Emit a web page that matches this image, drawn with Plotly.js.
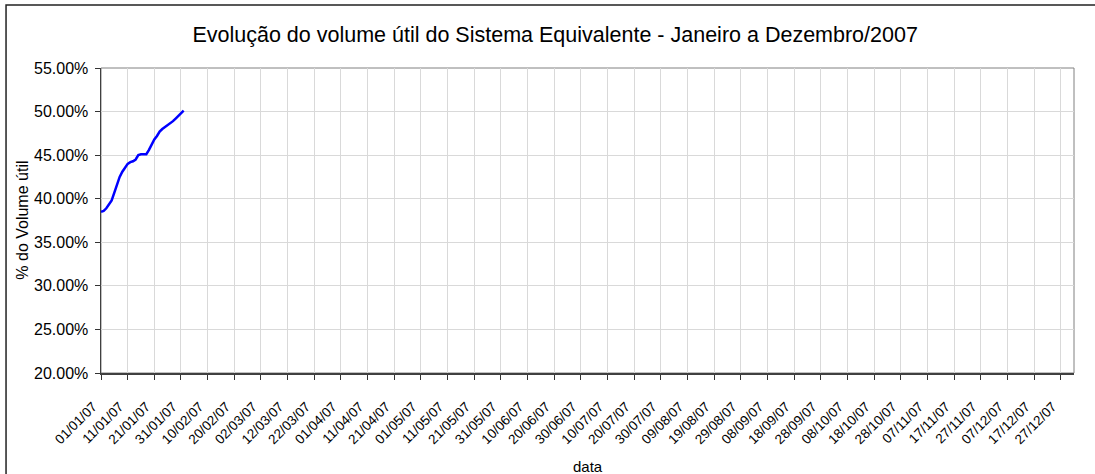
<!DOCTYPE html>
<html>
<head>
<meta charset="utf-8">
<script src="https://cdn.plot.ly/plotly-3.0.1.min.js"></script>
<style>html,body{margin:0;padding:0;background:#fff;}#chart{width:1095px;height:474px;}</style>
</head>
<body>
<div id="chart"></div>
<script>
// Daily dates (01/01/2007 - 01/02/2007)
const dates = [
  "2007-01-01","2007-01-02","2007-01-03","2007-01-04","2007-01-05","2007-01-06","2007-01-07","2007-01-08",
  "2007-01-09","2007-01-10","2007-01-11","2007-01-12","2007-01-13","2007-01-14","2007-01-15","2007-01-16",
  "2007-01-17","2007-01-18","2007-01-19","2007-01-20","2007-01-21","2007-01-22","2007-01-23","2007-01-24",
  "2007-01-25","2007-01-26","2007-01-27","2007-01-28","2007-01-29","2007-01-30","2007-01-31","2007-02-01"
];
// % do volume útil (fraction)
const volume = [
  0.385,0.386,0.389,0.393,0.398,0.407,0.416,0.425,
  0.431,0.436,0.440,0.442,0.443,0.445,0.450,0.451,
  0.451,0.451,0.456,0.463,0.468,0.472,0.477,0.480,
  0.482,0.484,0.486,0.489,0.492,0.495,0.498,0.501
];
const titleText = "Evolução do volume útil do Sistema Equivalente - Janeiro a Dezembro/2007";
const yTitle = "% do Volume útil";
const xTitle = "data";
const xStart = "2007-01-01", xEnd = "2008-01-01";
const yMin = 0.20, yMax = 0.55;

const font = "Liberation Sans, Arial, sans-serif";

const trace = {
  x: dates, y: volume, type: "scatter", mode: "lines",
  line: {color: "#0000FF", width: 2.5}, hoverinfo: "skip"
};

const layout = {
  width: 1095, height: 474,
  margin: {l: 101, r: 21, t: 68, b: 101},
  paper_bgcolor: "#ffffff", plot_bgcolor: "#ffffff",
  showlegend: false,
  font: {family: font, color: "#000"},
  title: {text: titleText, font: {size: 21.5, family: font, color: "#000"}, x: 0.507, xanchor: "center", y: 0.928, yanchor: "middle"},
  xaxis: {
    type: "date", range: [xStart, xEnd],
    tick0: xStart, dtick: 10 * 86400000, tickformat: "%d/%m/%y",
    tickangle: -45, tickfont: {size: 13.5, family: font, color: "#000"},
    ticklabelstandoff: 14, ticklabelshift: -8,
    ticks: "outside", ticklen: 5, tickcolor: "#333",
    showgrid: true, gridcolor: "#d9d9d9", gridwidth: 1,
    showline: true, linecolor: "#404040", linewidth: 1.5,
    zeroline: false, automargin: false
  },
  yaxis: {
    range: [yMin, yMax], dtick: 0.05, tickformat: ".2%",
    tickfont: {size: 16, family: font, color: "#000"},
    ticklabelstandoff: 3,
    ticks: "outside", ticklen: 5, tickcolor: "#333",
    showgrid: true, gridcolor: "#d9d9d9", gridwidth: 1,
    showline: true, linecolor: "#404040", linewidth: 1.5,
    zeroline: false, automargin: false
  },
  shapes: [
    {type: "rect", xref: "paper", yref: "paper", x0: 0, x1: 1, y0: 0, y1: 1,
     line: {color: "#808080", width: 1}, layer: "below"},
    {type: "rect", xref: "paper", yref: "paper", x0: -0.0976, x1: 1.05, y0: -0.4, y1: 1.2066,
     line: {color: "#222", width: 1.5}, fillcolor: "rgba(0,0,0,0)"}
  ],
  annotations: [
    {text: yTitle, xref: "paper", yref: "paper", x: -0.081, y: 0.5, textangle: -90,
     showarrow: false, xanchor: "center", yanchor: "middle", font: {size: 16, family: font, color: "#000"}},
    {text: xTitle, xref: "paper", yref: "paper", x: 0.5, y: -0.308,
     showarrow: false, xanchor: "center", yanchor: "middle", font: {size: 15, family: font, color: "#000"}}
  ]
};

Plotly.newPlot("chart", [trace], layout, {displayModeBar: false, staticPlot: true});
</script>
</body>
</html>
